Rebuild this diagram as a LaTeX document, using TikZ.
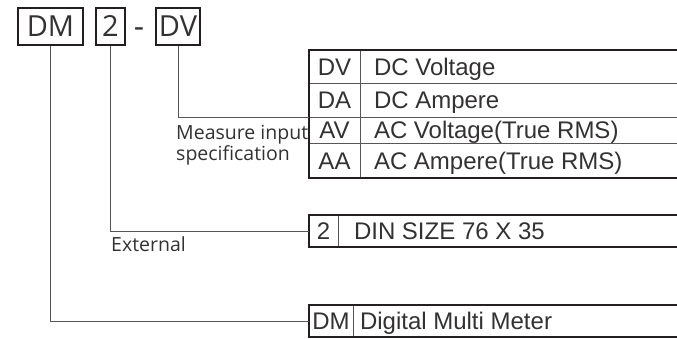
\documentclass[tikz,border=0pt]{standalone}
\usepackage{xcolor}
\usepackage{fontspec}
\setmainfont{Open Sans}
\newfontfamily\tabfont{Liberation Sans}
\usepackage{tikz}
\usetikzlibrary{positioning}

\definecolor{inkline}{HTML}{231F20}
\definecolor{inkgray}{HTML}{5A5657}
\definecolor{inktext}{HTML}{333131}

\begin{document}
\begin{tikzpicture}[y=-1pt,x=1pt,
	topbox/.style={draw=inkline, line width=1.2pt, inner sep=0pt, minimum height=37pt, text=inktext,
		font=\fontsize{29}{29}\selectfont, text height=20.5pt, text depth=0pt},
	codecell/.style={draw=inkgray, line width=0.7pt, inner sep=0pt, outer sep=0pt, anchor=north west, text=inktext,
		font=\tabfont\fontsize{24}{24}\selectfont, text height=17pt, text depth=0pt},
	desc/.style={inner sep=0pt, outer sep=0pt, text=inktext,
		font=\tabfont\fontsize{24}{24}\selectfont, text height=17pt, text depth=0pt},
	rowline/.style={draw=inkgray, line width=0.7pt},
	frame/.style={draw=inkline, line width=1.6pt},
	conn/.style={draw=inkgray, line width=0.8pt},
	lbl/.style={inner sep=0pt, anchor=north west, align=left, text=inktext, font=\fontsize{19.5}{16.5}\selectfont}]
	\useasboundingbox (0,0) rectangle (677,338);
	\clip (0,0) rectangle (677,338);

	\node[topbox, minimum width=65pt] (dm) at (50.5,26.5) {DM};
	\node[topbox, minimum width=29pt] (two) at (110.5,26.5) {2};
	\node[inner sep=0pt, text=inktext, font=\fontsize{32}{32}\selectfont] (dash) at (139,33) {-};
	\node[topbox, minimum width=44pt] (dv) at (178,26.5) {DV};

	% measure input
	\node[codecell, minimum width=51pt, minimum height=33pt] (cdv) at (309,50) {DV};
	\node[codecell, minimum width=51pt, minimum height=34pt] (cda) at (309,83) {DA};
	\node[codecell, minimum width=51pt, minimum height=26pt] (cav) at (309,117) {AV};
	\node[codecell, minimum width=51pt, minimum height=35pt] (caa) at (309,143) {AA};
	\node[desc, right=14pt of cdv] (ddv) {DC Voltage};
	\node[desc, right=14pt of cda] (dda) {DC Ampere};
	\node[desc, right=14pt of cav] (dav) {AC Voltage(True RMS)};
	\node[desc, right=14pt of caa] (daa) {AC Ampere(True RMS)};
	\draw[rowline] (cdv.south east) -- +(400,0);
	\draw[rowline] (cda.south east) -- +(400,0);
	\draw[rowline] (cav.south east) -- +(400,0);
	\draw[frame] (cdv.north west) ++(400,0) -| (caa.south west) -- +(400,0);

	% size
	\node[codecell, minimum width=29pt, minimum height=32pt] (csz) at (309,215) {2};
	\node[desc, right=16pt of csz] (dsz) {DIN SIZE 76 X 35};
	\draw[frame] (csz.north west) ++(400,0) -| (csz.south west) -- +(400,0);

	% type
	\node[codecell, minimum width=44pt, minimum height=32pt] (cdm) at (309,305) {DM};
	\node[desc, right=7pt of cdm] (ddm) {Digital Multi Meter};
	\draw[frame] (cdm.north west) ++(400,0) -| (cdm.south west) -- +(400,0);

	\draw[conn] (dv.south) |- (cda.south west);
	\draw[conn] (two.south) |- (csz.west);
	\draw[conn] (dm.south) |- (cdm.west);

	\node[lbl] (lmeas) at (176,125) {Measure input\\specification};
	\node[lbl] (lext) at (111,236) {External};
\end{tikzpicture}
\end{document}
